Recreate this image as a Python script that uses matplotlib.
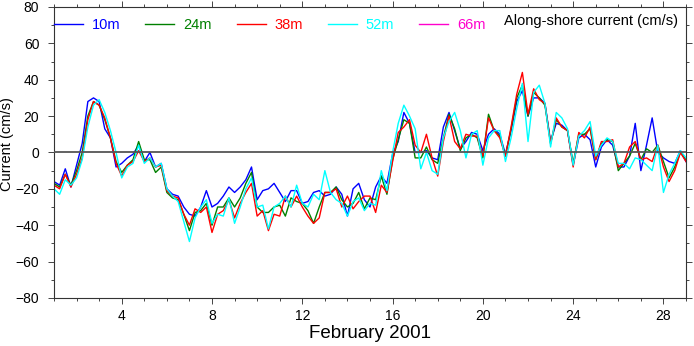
import numpy as np
import matplotlib
matplotlib.use("Agg")
import matplotlib.pyplot as plt
from matplotlib.lines import Line2D
from matplotlib.ticker import MultipleLocator

plt.rcParams['font.family'] = ['Liberation Sans', 'DejaVu Sans']

# six-hourly samples, 1 Feb .. 1 Mar 2001 (day of month)
days = np.arange(1.0, 29.01, 0.25)

depths = ["10m", "24m", "38m", "52m", "66m"]
colors = ["#0000ff", "#008000", "#ff0000", "#00ffff", "#ff00cc"]

cur_10m = [-16, -18, -9, -19, -7, 5, 28, 30,
           28, 13, 8, -8, -6, -3, -1, 4,
           -5, 0, -8, -6, -20, -23, -24, -30,
           -34, -35, -30, -21, -30, -28, -24, -19,
           -22, -19, -15, -8, -26, -21, -20, -17,
           -22, -27, -21, -21, -28, -27, -22, -21,
           -24, -23, -19, -23, -35, -20, -17, -26,
           -30, -19, -13, -17, -1, 6, 22, 16,
           0, 0, 1, -3, -4, 14, 22, 12,
           2, 6, 11, 10, 1, 10, 13, 10,
           -1, 12, 28, 34, 20, 30, 30, 27,
           6, 16, 15, 12, -7, 8, 10, 7,
           -8, 3, 7, 4, -8, -8, -2, 16,
           -10, 4, 19, 0, -3, -5, -6, 1,
           -5]

cur_24m = [-17, -19, -12, -18, -10, 0, 20, 28,
           26, 18, 8, -5, -11, -7, -4, 6,
           -4, -4, -11, -8, -22, -25, -26, -34,
           -43, -33, -32, -28, -40, -30, -30, -25,
           -30, -25, -17, -11, -30, -33, -33, -30,
           -29, -35, -25, -27, -28, -32, -39, -30,
           -22, -22, -19, -26, -30, -28, -22, -31,
           -25, -26, -13, -23, -4, 7, 18, 16,
           -3, -3, 3, -4, -6, 8, 21, 13,
           1, 8, 10, 8, -3, 21, 12, 9,
           -2, 13, 30, 37, 20, 33, 30, 26,
           5, 18, 14, 12, -6, 10, 10, 13,
           -4, 5, 7, 6, -10, -6, -2, 5,
           -4, 2, 0, 4, -5, -14, -8, 0,
           -4]

cur_38m = [-18, -20, -12, -19, -12, -3, 18, 28,
           26, 19, 8, -6, -13, -7, -5, 1,
           -5, -3, -8, -7, -21, -24, -25, -34,
           -40, -31, -33, -30, -44, -34, -32, -26,
           -36, -28, -22, -17, -35, -32, -43, -34,
           -35, -24, -30, -24, -30, -35, -39, -36,
           -22, -22, -20, -30, -24, -31, -27, -24,
           -24, -33, -18, -22, -5, 11, 14, 18,
           4, 0, 10, -3, -13, 6, 20, 6,
           2, 10, 9, 9, -2, 19, 12, 8,
           -2, 14, 32, 44, 21, 35, 29, 27,
           5, 19, 14, 12, -8, 11, 8, 14,
           -4, 6, 6, 7, -8, -6, 3, 6,
           -4, -3, -5, 4, -8, -16, -10, 0,
           -5]

cur_52m = [-20, -23, -15, -18, -14, -4, 14, 26,
           29, 22, 12, 0, -14, -8, -6, 4,
           -6, -3, -8, -6, -20, -24, -27, -38,
           -49, -36, -30, -26, -39, -34, -35, -25,
           -39, -30, -20, -14, -30, -29, -42, -30,
           -28, -24, -30, -18, -28, -30, -23, -26,
           -10, -22, -26, -28, -35, -27, -25, -32,
           -28, -29, -10, -21, 0, 16, 26, 20,
           13, -9, 0, -10, -12, 8, 17, 22,
           12, -3, 10, 12, -7, 8, 12, 12,
           -5, 8, 24, 38, 6, 33, 37, 27,
           3, 22, 19, 13, -7, 9, 12, 17,
           -2, 4, 8, 6, -6, -6, -9, -3,
           -4, -7, -10, 4, -22, -12, -6, 1,
           -3]

series = [cur_10m, cur_24m, cur_38m, cur_52m]

fig = plt.figure(figsize=(6.94, 3.46), dpi=100)
ax = fig.add_axes([0.0778, 0.139, 0.9107, 0.8408])

for vals, c in zip(series, colors):
    ax.plot(days, vals, color=c, lw=1.0, zorder=2)

ax.axhline(0, color="#555555", lw=1.3, zorder=3)

ax.set_xlim(1, 29)
ax.set_ylim(-80, 80)
ax.xaxis.set_major_locator(MultipleLocator(4))
ax.xaxis.set_minor_locator(MultipleLocator(1))
ax.yaxis.set_major_locator(MultipleLocator(20))
ax.yaxis.set_minor_locator(MultipleLocator(10))
ax.set_xticks([4, 8, 12, 16, 20, 24, 28])

for side in ax.spines.values():
    side.set_color("#333333")
    side.set_linewidth(0.8)
ax.tick_params(which="both", direction="out", top=True, right=True,
               color="#444444", width=0.7, labelsize=10)
ax.tick_params(which="major", length=4.6)
ax.tick_params(which="minor", length=2.4)
ax.tick_params(axis="y", pad=6)
ax.tick_params(axis="x", pad=3.5)

ax.set_xlabel("February 2001", fontsize=13.5, labelpad=1)
ax.set_ylabel("Current (cm/s)", fontsize=10.5)
ax.yaxis.set_label_coords(-0.063, 0.53)

handles = [Line2D([], [], color=c, lw=1.0) for c in colors]
ax.legend(handles, depths, loc="center left", bbox_to_anchor=(0.0, 0.938),
          ncol=5, frameon=False, fontsize=10.5, handlelength=2.0,
          handletextpad=0.6, columnspacing=1.7, borderpad=0, borderaxespad=0,
          labelcolor=colors)

ax.text(0.987, 0.953, "Along-shore current (cm/s)", transform=ax.transAxes,
        ha="right", va="center", fontsize=10.5)

fig.savefig("out.png", dpi=100)
